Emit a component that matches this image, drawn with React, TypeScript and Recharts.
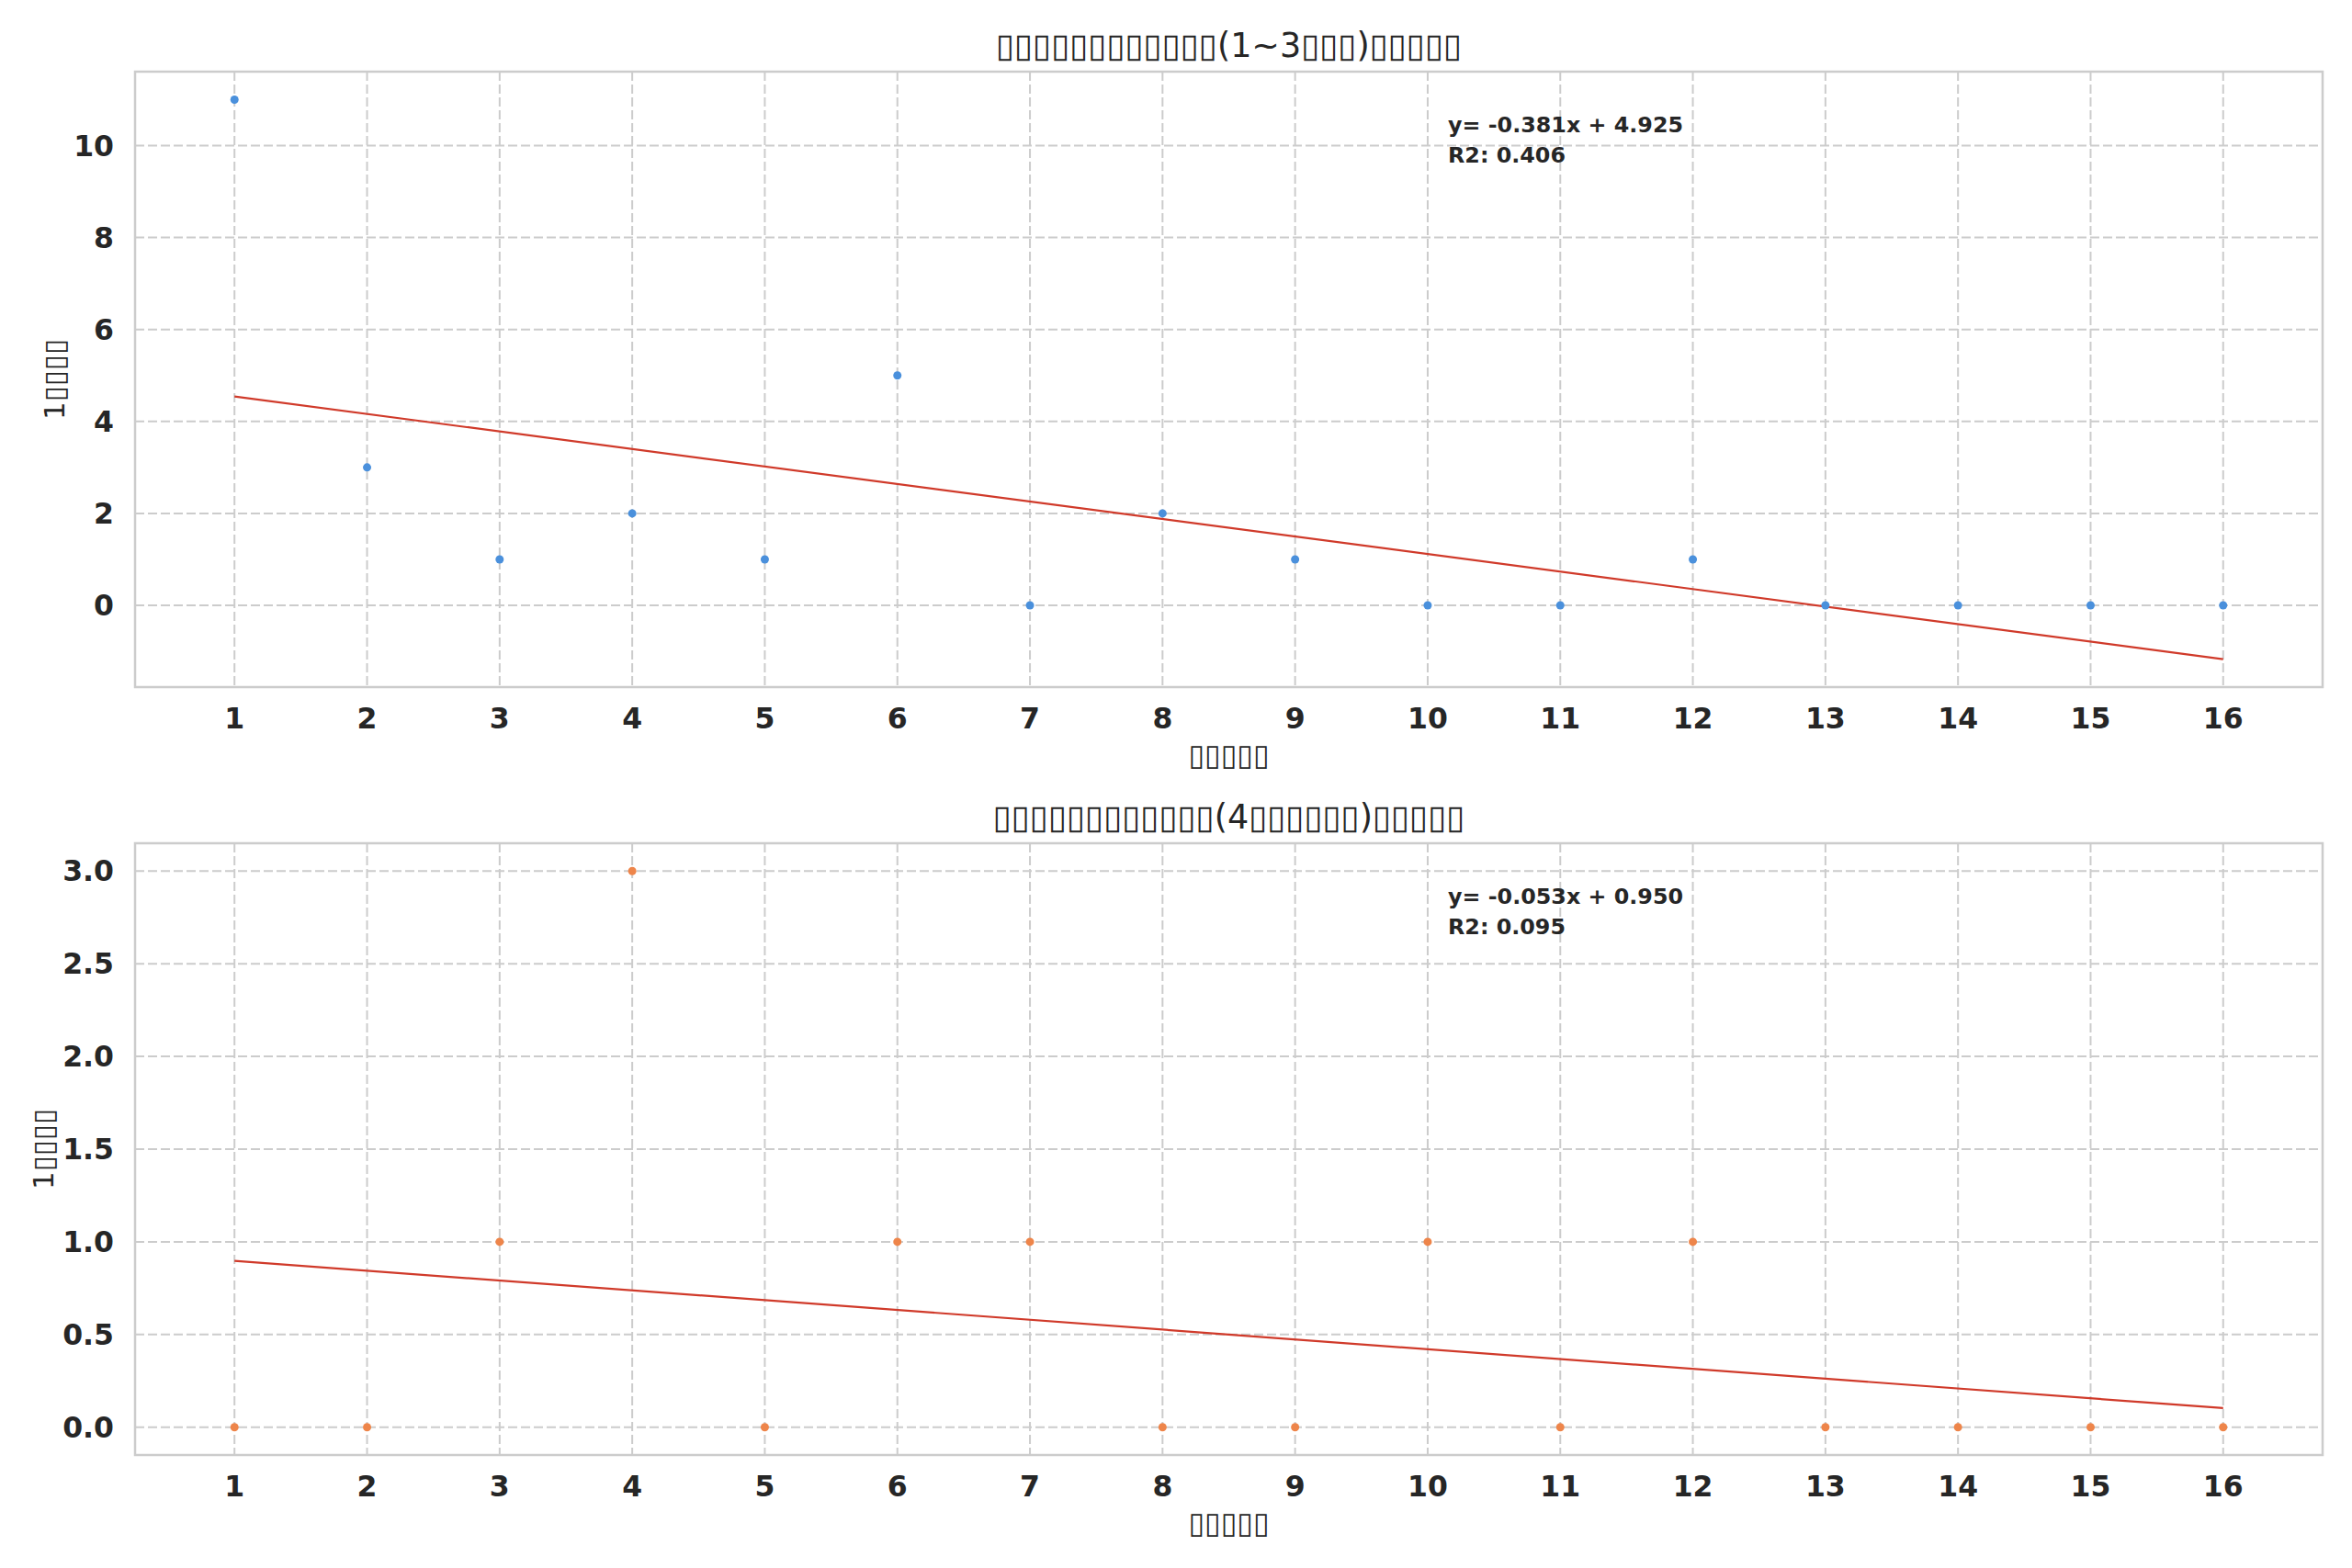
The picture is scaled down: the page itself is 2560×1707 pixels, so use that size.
import React from 'react';
import {
  ScatterChart,
  Scatter,
  XAxis,
  YAxis,
  CartesianGrid,
  ReferenceLine,
  ReferenceArea,
} from 'recharts';

// the source figure lost its CJK glyphs, they render as empty boxes
const B = '\u25AF';
const box = (n: number) => B.repeat(n);

const periods = [1, 2, 3, 4, 5, 6, 7, 8, 9, 10, 11, 12, 13, 14, 15, 16];
const shortTermCounts = [11, 3, 1, 2, 1, 5, 0, 2, 1, 0, 0, 1, 0, 0, 0, 0];
const longTermCounts = [0, 0, 1, 3, 0, 1, 1, 0, 0, 1, 0, 1, 0, 0, 0, 0];

const topYTicks = [0, 2, 4, 6, 8, 10];
const bottomYTicks = [0, 0.5, 1, 1.5, 2, 2.5, 3];

const topTitle = `${box(12)}(1~3${box(3)})${box(5)}`;
const bottomTitle = `${box(12)}(4${box(6)})${box(5)}`;
const xLabel = box(5);
const yLabel = `1${box(4)}`;

const FONT = '"DejaVu Sans", sans-serif';
const INK = '#262626';
const GRID = '#cccccc';
const FIT = '#d03a2a';

function fit(xs: number[], ys: number[]) {
  const n = xs.length;
  const mx = xs.reduce((a, b) => a + b, 0) / n;
  const my = ys.reduce((a, b) => a + b, 0) / n;
  let sxy = 0, sxx = 0, syy = 0;
  xs.forEach((x, i) => {
    sxy += (x - mx) * (ys[i] - my);
    sxx += (x - mx) ** 2;
    syy += (ys[i] - my) ** 2;
  });
  const slope = sxy / sxx;
  return { slope, intercept: my - slope * mx, r2: (sxy * sxy) / (sxx * syy) };
}

type PanelProps = {
  top: number;
  height: number;
  plotTop: number;
  plotHeight: number;
  values: number[];
  color: string;
  yTicks: number[];
  yFmt: (v: number) => string;
  title: string;
  yLabelX: number;
};

const Panel = ({ top, height, plotTop, plotHeight, values, color, yTicks, yFmt, title, yLabelX }: PanelProps) => {
  const data = periods.map((x, i) => ({ x, y: values[i] }));
  const { slope, intercept, r2 } = fit(periods, values);
  const first = periods[0];
  const last = periods[periods.length - 1];
  const lineY = [intercept + slope * first, intercept + slope * last];

  const lo = Math.min(...values, ...lineY);
  const hi = Math.max(...values, ...lineY);
  const pad = (hi - lo) * 0.05;
  const yDomain: [number, number] = [lo - pad, hi + pad];
  const xPad = (last - first) * 0.05;
  const xDomain: [number, number] = [first - xPad, last + xPad];

  const left = 147;
  const right = 32;
  const plotMid = left + (2560 - left - right) / 2;

  const tick = { fontFamily: FONT, fontSize: 31.5, fontWeight: 700, fill: INK };
  const sign = intercept >= 0 ? '+' : '-';

  return (
    <div style={{ position: 'absolute', left: 0, top, width: 2560, height }}>
      <ScatterChart
        width={2560}
        height={height}
        margin={{ top: plotTop, right, left: 0, bottom: 0 }}
      >
        <CartesianGrid stroke={GRID} strokeWidth={2} strokeDasharray="10 4" />
        <ReferenceArea
          x1={xDomain[0]}
          x2={xDomain[1]}
          y1={yDomain[0]}
          y2={yDomain[1]}
          fill="none"
          stroke={GRID}
          strokeWidth={2.5}
        />
        <XAxis
          type="number"
          dataKey="x"
          domain={xDomain}
          ticks={periods}
          interval={0}
          axisLine={false}
          tickLine={false}
          tickSize={0}
          tickMargin={23}
          height={height - plotTop - plotHeight}
          tick={tick}
        />
        <YAxis
          type="number"
          dataKey="y"
          domain={yDomain}
          ticks={yTicks}
          interval={0}
          axisLine={false}
          tickLine={false}
          tickSize={0}
          tickMargin={23}
          width={left}
          tick={tick}
          tickFormatter={yFmt}
        />
        <Scatter
          data={data}
          fill={color}
          isAnimationActive={false}
          shape={(p: any) => <circle cx={p.cx} cy={p.cy} r={4.5} fill={color} />}
        />
        <ReferenceLine
          segment={[
            { x: first, y: lineY[0] },
            { x: last, y: lineY[1] },
          ]}
          stroke={FIT}
          strokeWidth={2.2}
        />
      </ScatterChart>

      <div
        style={{
          position: 'absolute',
          left: plotMid,
          top: plotTop - 29,
          transform: 'translate(-50%, -50%)',
          fontFamily: FONT,
          fontSize: 36.5,
          color: INK,
          whiteSpace: 'nowrap',
        }}
      >
        {title}
      </div>

      <div
        style={{
          position: 'absolute',
          left: plotMid,
          top: plotTop + plotHeight + 74,
          transform: 'translate(-50%, -50%)',
          fontFamily: FONT,
          fontSize: 32,
          color: INK,
          whiteSpace: 'nowrap',
        }}
      >
        {xLabel}
      </div>

      <div
        style={{
          position: 'absolute',
          left: yLabelX,
          top: plotTop + plotHeight / 2,
          transform: 'translate(-50%, -50%) rotate(-90deg)',
          fontFamily: FONT,
          fontSize: 31,
          color: INK,
          whiteSpace: 'nowrap',
        }}
      >
        {yLabel}
      </div>

      <div
        style={{
          position: 'absolute',
          left: 1576,
          top: plotTop + 42,
          fontFamily: FONT,
          fontSize: 23.8,
          fontWeight: 700,
          lineHeight: '33px',
          color: INK,
          whiteSpace: 'nowrap',
        }}
      >
        <div>{`y= ${slope.toFixed(3)}x ${sign} ${Math.abs(intercept).toFixed(3)}`}</div>
        <div>{`R2: ${r2.toFixed(3)}`}</div>
      </div>
    </div>
  );
};

export default function App() {
  return (
    <div style={{ position: 'relative', width: 2560, height: 1707, background: '#ffffff' }}>
      <style>{'body{margin:0;background:#fff}'}</style>
      <Panel
        top={0}
        height={853}
        plotTop={78}
        plotHeight={670}
        values={shortTermCounts}
        color="#4a90dc"
        yTicks={topYTicks}
        yFmt={(v) => String(v)}
        title={topTitle}
        yLabelX={59}
      />
      <Panel
        top={853}
        height={854}
        plotTop={65}
        plotHeight={666}
        values={longTermCounts}
        color="#ee854a"
        yTicks={bottomYTicks}
        yFmt={(v) => v.toFixed(1)}
        title={bottomTitle}
        yLabelX={47}
      />
    </div>
  );
}
